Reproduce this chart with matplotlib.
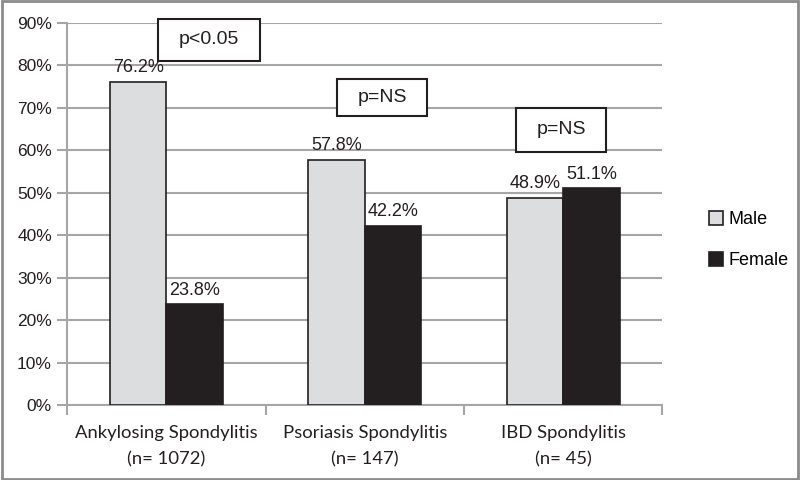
import matplotlib
matplotlib.use("Agg")
import matplotlib.pyplot as plt
from matplotlib.patches import Rectangle
import numpy as np

categories = ["Ankylosing Spondylitis\n(n= 1072)", "Psoriasis Spondylitis\n(n= 147)", "IBD Spondylitis\n(n= 45)"]
male = [76.2, 57.8, 48.9]
female = [23.8, 42.2, 51.1]
pvals = ["p<0.05", "p=NS", "p=NS"]
series_names = ["Male", "Female"]
yticks = [0, 10, 20, 30, 40, 50, 60, 70, 80, 90]

plt.rcParams['font.family'] = ['Liberation Sans', 'DejaVu Sans']

fig = plt.figure(figsize=(8, 4.8), dpi=100)
ax = fig.add_axes([0.084, 0.156, 0.744, 0.796])

x = np.arange(len(categories))
w = 0.285
grid_c = '#a6a6a6'
b1 = ax.bar(x - w/2, male, w, color='#dcdddf', edgecolor='#231f20', linewidth=1.2, label=series_names[0], zorder=3)
b2 = ax.bar(x + w/2, female, w, color='#231f20', edgecolor='#231f20', linewidth=1.2, label=series_names[1], zorder=3)

for xi, v in zip(x - w/2, male):
    ax.text(xi, v + 1.3, f"{v:.1f}%", ha='center', va='bottom', fontsize=13, color='#231f20', zorder=4)
for xi, v in zip(x + w/2, female):
    ax.text(xi, v + 1.3, f"{v:.1f}%", ha='center', va='bottom', fontsize=13, color='#231f20', zorder=4)

ax.set_xlim(-0.5, 2.5)
ax.set_ylim(0, 90)
ax.set_yticks(yticks)
ax.set_yticklabels([f"{t}%" for t in yticks], fontsize=12.5, color='#231f20')
ax.yaxis.grid(True, color=grid_c, linewidth=1.5, zorder=0)
ax.set_axisbelow(True)

ax.set_xticks([-0.5, 0.5, 1.5, 2.5])
ax.set_xticklabels([])
ax.set_xticks(x, minor=True)
ax.set_xticklabels(categories, minor=True, fontsize=13.3, color='#231f20', family=['Lato', 'DejaVu Sans'],
                   linespacing=1.85)
ax.tick_params(axis='x', which='minor', length=0, pad=14)
ax.tick_params(axis='x', which='major', length=7, color=grid_c, width=1.5)
ax.tick_params(axis='y', length=7, color=grid_c, width=1.5, pad=4)

for s in ['top', 'right']:
    ax.spines[s].set_visible(False)
for s in ['left', 'bottom']:
    ax.spines[s].set_color(grid_c)
    ax.spines[s].set_linewidth(1.5)

# p-value boxes (center x, center y, width, height in data units)
boxes = [(0.216, 86.1, 0.512, 9.9), (1.087, 72.5, 0.453, 8.7), (1.99, 64.9, 0.453, 10.4)]
for (cx, cy, bw, bh), txt in zip(boxes, pvals):
    ax.add_patch(Rectangle((cx - bw/2, cy - bh/2), bw, bh, facecolor='white', edgecolor='#231f20',
                           linewidth=1.5, zorder=5, clip_on=False))
    ax.text(cx, cy, txt, ha='center', va='center', fontsize=14, color='#231f20', zorder=6)

fig.legend(handles=[b1, b2], labels=series_names, loc='center left', bbox_to_anchor=(0.866, 0.5),
           frameon=False, fontsize=13, handlelength=0.8, handleheight=0.8, labelspacing=1.3,
           handletextpad=0.3)

fig.patches.append(Rectangle((0.002, 0.003), 0.996, 0.994, transform=fig.transFigure,
                             fill=False, edgecolor='#8c8c8c', linewidth=2))

fig.savefig("out.png", dpi=100)
